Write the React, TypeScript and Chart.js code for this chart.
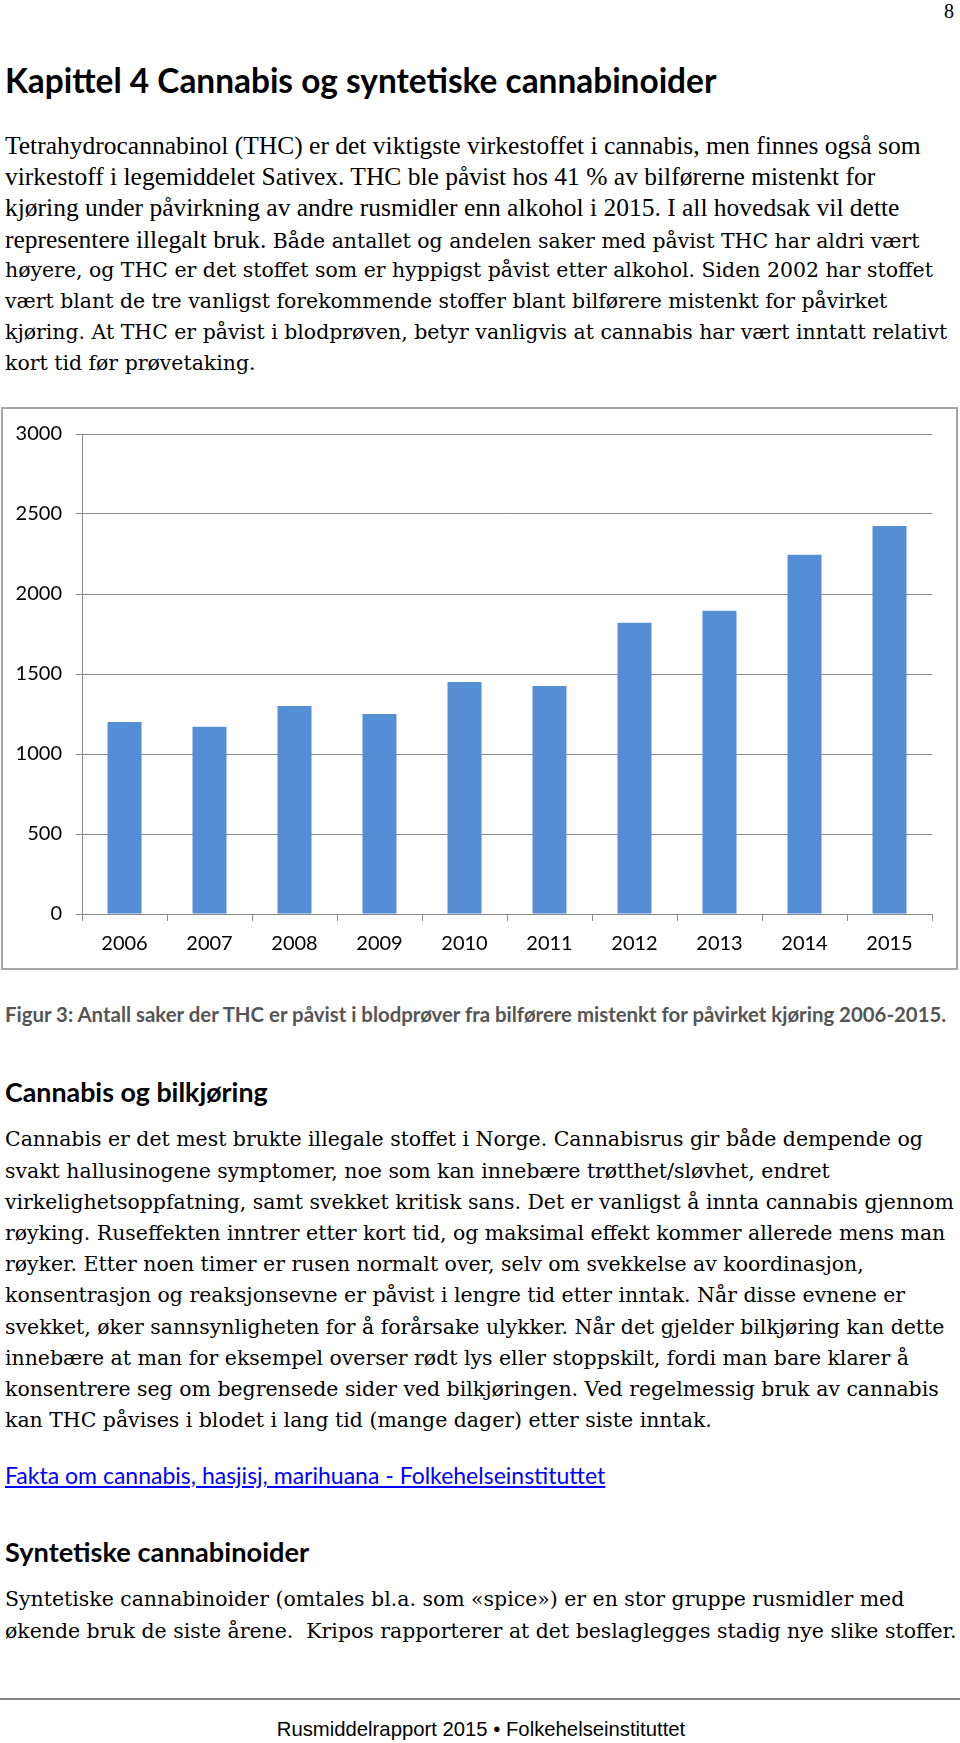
import React, { useEffect, useRef } from "react";
import { Chart, registerables } from "chart.js";

Chart.register(...registerables);

// ---- chart data ----
const years = ["2006", "2007", "2008", "2009", "2010", "2011", "2012", "2013", "2014", "2015"];
const thcCases = [1200, 1170, 1300, 1250, 1450, 1425, 1820, 1895, 2245, 2425];
const yTickValues = [0, 500, 1000, 1500, 2000, 2500, 3000];

// ---- page text ----
const TITLE = "Kapittel 4 Cannabis og syntetiske cannabinoider";
const PARA1_TIMES = [
  "Tetrahydrocannabinol (THC) er det viktigste virkestoffet i cannabis, men finnes også som",
  "virkestoff i legemiddelet Sativex. THC ble påvist hos 41 % av bilførerne mistenkt for",
  "kjøring under påvirkning av andre rusmidler enn alkohol i 2015. I all hovedsak vil dette",
];
const PARA1_MIXED_A = "representere illegalt bruk.";
const PARA1_MIXED_B = " Både antallet og andelen saker med påvist THC har aldri vært";
const PARA1_REST = [
  "høyere, og THC er det stoffet som er hyppigst påvist etter alkohol. Siden 2002 har stoffet",
  "vært blant de tre vanligst forekommende stoffer blant bilførere mistenkt for påvirket",
  "kjøring. At THC er påvist i blodprøven, betyr vanligvis at cannabis har vært inntatt relativt",
  "kort tid før prøvetaking.",
];
const CAPTION =
  "Figur 3: Antall saker der THC er påvist i blodprøver fra bilførere mistenkt for påvirket kjøring 2006-2015.";
const HEADING2 = "Cannabis og bilkjøring";
const PARA2 = [
  "Cannabis er det mest brukte illegale stoffet i Norge. Cannabisrus gir både dempende og",
  "svakt hallusinogene symptomer, noe som kan innebære trøtthet/sløvhet, endret",
  "virkelighetsoppfatning, samt svekket kritisk sans. Det er vanligst å innta cannabis gjennom",
  "røyking. Ruseffekten inntrer etter kort tid, og maksimal effekt kommer allerede mens man",
  "røyker. Etter noen timer er rusen normalt over, selv om svekkelse av koordinasjon,",
  "konsentrasjon og reaksjonsevne er påvist i lengre tid etter inntak. Når disse evnene er",
  "svekket, øker sannsynligheten for å forårsake ulykker. Når det gjelder bilkjøring kan dette",
  "innebære at man for eksempel overser rødt lys eller stoppskilt, fordi man bare klarer å",
  "konsentrere seg om begrensede sider ved bilkjøringen. Ved regelmessig bruk av cannabis",
  "kan THC påvises i blodet i lang tid (mange dager) etter siste inntak.",
];
const LINK = "Fakta om cannabis, hasjisj, marihuana - Folkehelseinstituttet";
const HEADING3 = "Syntetiske cannabinoider";
const PARA3 = [
  "Syntetiske cannabinoider (omtales bl.a. som «spice») er en stor gruppe rusmidler med",
  "økende bruk de siste årene.  Kripos rapporterer at det beslaglegges stadig nye slike stoffer.",
];
const FOOTER = "Rusmiddelrapport 2015 • Folkehelseinstituttet";

const SERIF_TIMES = '"Liberation Serif", "Times New Roman", serif';
const SERIF_BODY = '"DejaVu Serif", serif';
const SANS = 'Lato, "Open Sans", sans-serif';
const LINE_H = 31.2;
const BODY_SIZE = 20.45;

function Line(props: {
  top: number;
  left?: number;
  font: string;
  size: number;
  weight?: number;
  color?: string;
  lh?: number;
  children: React.ReactNode;
  extra?: React.CSSProperties;
}) {
  const lh = props.lh ?? LINE_H;
  return (
    <div
      style={{
        position: "absolute",
        left: props.left ?? 5,
        top: props.top - lh / 2,
        height: lh,
        lineHeight: lh + "px",
        fontFamily: props.font,
        fontSize: props.size,
        fontWeight: props.weight ?? 400,
        color: props.color ?? "#000",
        whiteSpace: "pre",
        ...props.extra,
      }}
    >
      {props.children}
    </div>
  );
}

function BarChart() {
  const ref = useRef<HTMLCanvasElement | null>(null);
  useEffect(() => {
    if (!ref.current) return;
    const GRID = "#8a8a8a";
    const tickFont = { family: SANS, size: 20 };
    const chart = new Chart(ref.current, {
      type: "bar",
      data: {
        labels: years,
        datasets: [
          {
            data: thcCases,
            backgroundColor: "#558ED5",
            borderWidth: 0,
            barPercentage: 0.4,
            categoryPercentage: 1,
          },
        ],
      },
      options: {
        responsive: false,
        animation: false,
        layout: { padding: { top: 24, right: 25, left: 0, bottom: 0 } },
        plugins: { legend: { display: false }, tooltip: { enabled: false } },
        scales: {
          x: {
            grid: {
              display: true,
              drawOnChartArea: false,
              offset: true,
              tickLength: 7,
              color: GRID,
              lineWidth: 1,
            },
            border: { color: GRID, width: 1 },
            ticks: { font: tickFont, color: "#000", padding: 11, maxRotation: 0, autoSkip: false },
            afterFit: (s: any) => {
              s.height = 55;
            },
          },
          y: {
            min: 0,
            max: 3000,
            grid: { color: GRID, tickLength: 6, lineWidth: 1 },
            border: { color: GRID, width: 1 },
            ticks: {
              font: tickFont,
              color: "#000",
              padding: 14,
              callback: (v: any) => String(v),
            },
            afterBuildTicks: (s: any) => {
              s.ticks = yTickValues.map((v) => ({ value: v }));
            },
            afterFit: (s: any) => {
              s.width = 80;
            },
          },
        },
      },
    });
    return () => chart.destroy();
  }, []);
  return (
    <canvas
      ref={ref}
      width={955}
      height={561}
      style={{ position: "absolute", left: 2, top: 408, width: 955, height: 561 }}
    />
  );
}

export default function App() {
  useEffect(() => {
    document.body.style.margin = "0";
  }, []);
  return (
    <div
      style={{
        position: "absolute",
        left: 0,
        top: 0,
        width: 960,
        height: 1743,
        overflow: "hidden",
        background: "#fff",
      }}
    >
      <Line top={11} left={944} font={SERIF_TIMES} size={20} lh={22}>
        8
      </Line>
      <Line top={80} font={SANS} size={33.4} weight={700} lh={40}>
        {TITLE}
      </Line>

      {PARA1_TIMES.map((t, i) => (
        <Line key={"p1t" + i} top={145.5 + i * LINE_H} font={SERIF_TIMES} size={25.5}>
          {t}
        </Line>
      ))}
      <Line top={145.5 + 3 * LINE_H} font={SERIF_TIMES} size={25.5}>
        {PARA1_MIXED_A}
        <span style={{ fontFamily: SERIF_BODY, fontSize: BODY_SIZE }}>{PARA1_MIXED_B}</span>
      </Line>
      {PARA1_REST.map((t, i) => (
        <Line key={"p1r" + i} top={145.5 + (4 + i) * LINE_H} font={SERIF_BODY} size={BODY_SIZE}>
          {t}
        </Line>
      ))}

      <div
        style={{
          position: "absolute",
          left: 1,
          top: 407,
          width: 957,
          height: 563,
          boxSizing: "border-box",
          border: "2px solid #a6a6a6",
        }}
      />
      <BarChart />

      <Line top={1014} font={SANS} size={20.4} weight={700} color="#555555" lh={26}>
        {CAPTION}
      </Line>

      <Line top={1092} font={SANS} size={26.8} weight={700} lh={34}>
        {HEADING2}
      </Line>
      {PARA2.map((t, i) => (
        <Line key={"p2" + i} top={1140 + i * LINE_H} font={SERIF_BODY} size={BODY_SIZE}>
          {t}
        </Line>
      ))}

      <Line
        top={1475}
        font={SANS}
        size={23}
        color="#0000FF"
        lh={30}
        extra={{ textDecoration: "underline" }}
      >
        {LINK}
      </Line>

      <Line top={1552} font={SANS} size={27.2} weight={700} lh={34}>
        {HEADING3}
      </Line>
      {PARA3.map((t, i) => (
        <Line key={"p3" + i} top={1600 + i * LINE_H} font={SERIF_BODY} size={BODY_SIZE}>
          {t}
        </Line>
      ))}

      <div
        style={{
          position: "absolute",
          left: 0,
          top: 1698,
          width: 960,
          height: 2,
          background: "#808080",
        }}
      />
      <div
        style={{
          position: "absolute",
          left: 0,
          width: 962,
          top: 1729 - 12,
          height: 24,
          lineHeight: "24px",
          textAlign: "center",
          fontFamily: '"Liberation Sans", Arial, sans-serif',
          fontSize: 20.3,
          color: "#000",
          whiteSpace: "pre",
        }}
      >
        {FOOTER}
      </div>
    </div>
  );
}
